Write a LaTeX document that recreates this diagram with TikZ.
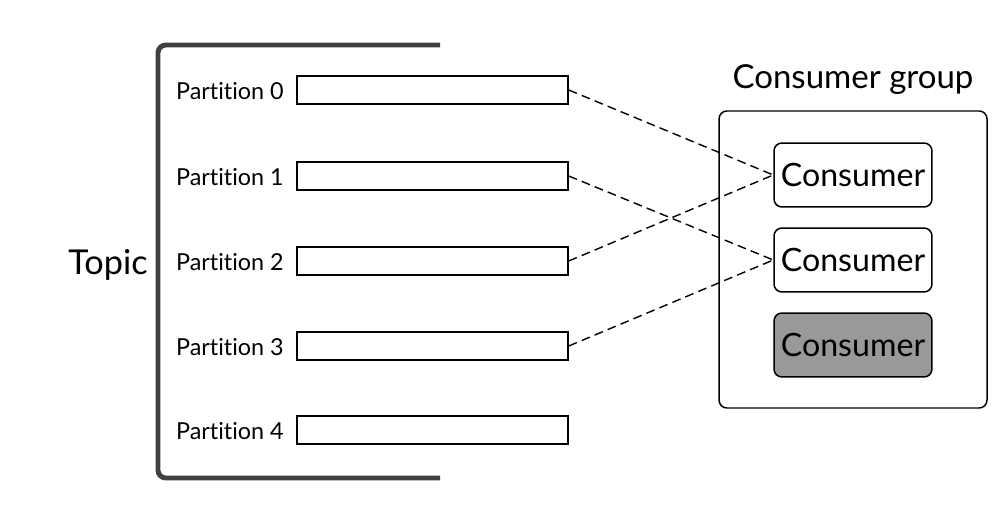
\documentclass[tikz,border=0pt]{standalone}
\usepackage{fontspec}
\setmainfont[Ligatures={NoCommon}]{Lato}
\usepackage{tikz}
\usetikzlibrary{positioning}
\definecolor{bracketgray}{HTML}{404040}
\definecolor{idlegray}{HTML}{999999}
\tikzset{
	partbar/.style={draw, rectangle, line width=0.85pt, minimum width=5.42cm, minimum height=0.56cm, inner sep=0pt},
	partlabel/.style={anchor=east, font=\fontsize{13.3}{15}\selectfont, inner sep=0pt},
	consumerbox/.style={draw, rectangle, rounded corners=4.5pt, line width=0.85pt, minimum width=3.16cm, minimum height=1.28cm, font=\fontsize{18.3}{21}\selectfont},
	link/.style={dashed, dash pattern=on 5pt off 3pt, line width=0.8pt}
}
\begin{document}
\begin{tikzpicture}[x=0.02cm, y=-0.02cm]
			\useasboundingbox (0, 0) rectangle (1004, 520);
			% topic bracket
			\draw[bracketgray, line width=2.8pt, rounded corners=4.5pt] (440, 45) -- (158, 45) -- (158, 478) -- (440, 478);
			\node[font=\fontsize{19.5}{22}\selectfont] (TOPIC)at(108, 265) {Topic};
			% partitions
			\node[partbar] (P0)at(432.5, 90) {};
			\node[partbar] (P1)at(432.5, 176) {};
			\node[partbar] (P2)at(432.5, 261) {};
			\node[partbar] (P3)at(432.5, 346) {};
			\node[partbar] (P4)at(432.5, 430) {};
			\node[partlabel] (L0)at(284, 91) {Partition 0};
			\node[partlabel] (L1)at(284, 177) {Partition 1};
			\node[partlabel] (L2)at(284, 262) {Partition 2};
			\node[partlabel] (L3)at(284, 347) {Partition 3};
			\node[partlabel] (L4)at(284, 431) {Partition 4};
			% consumer group
			\draw[line width=0.85pt, rounded corners=4.5pt] (719, 111) rectangle (987, 408);
			\node[font=\fontsize{18.8}{22}\selectfont] (GROUP)at(853, 80) {Consumer group};
			\node[consumerbox] (C1)at(853, 175) {Consumer};
			\node[consumerbox] (C2)at(853, 260) {Consumer};
			\node[consumerbox, fill=idlegray] (C3)at(853, 345) {Consumer};
			% assignments
			\draw[link] (P0.east) -- (C1.west);
			\draw[link] (P1.east) -- (C2.west);
			\draw[link] (P2.east) -- (C1.west);
			\draw[link] (P3.east) -- (C2.west);
		\end{tikzpicture}
\end{document}
